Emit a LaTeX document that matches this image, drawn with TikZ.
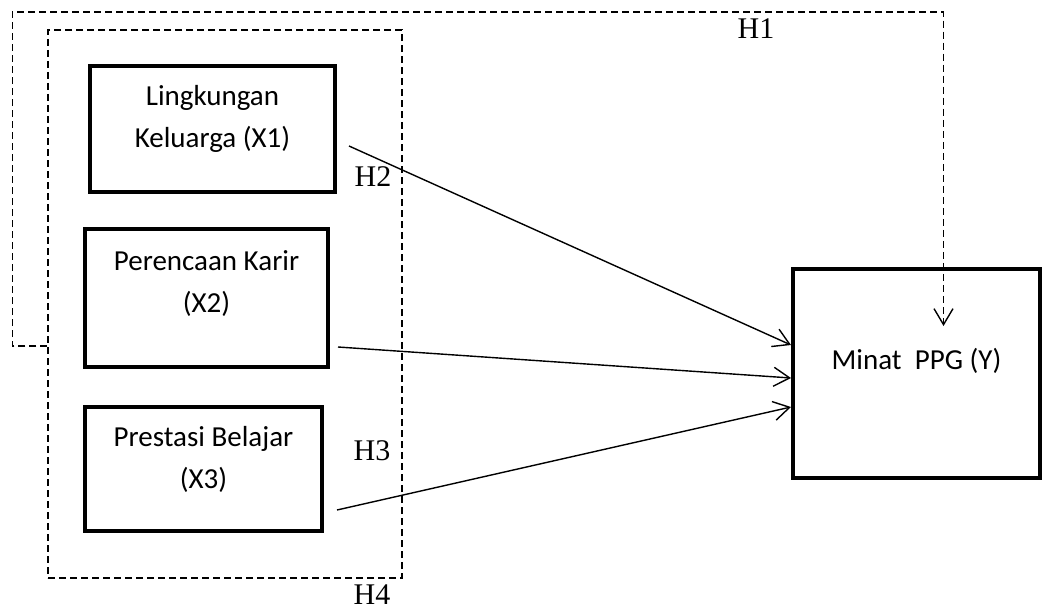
\documentclass[tikz,border=0pt]{standalone}
\usepackage{fontspec}
\setmainfont{Carlito}
\newfontfamily\hserif{Liberation Serif}
\usetikzlibrary{arrows.meta}
\begin{document}
\begin{tikzpicture}[x=1pt,y=-1pt,
  box/.style={draw,line width=4pt,inner sep=0pt},
  boxtext/.style={align=center,inner sep=0pt,font=\fontsize{29}{42}\selectfont},
  dashline/.style={line width=1.5pt,dash pattern=on 7pt off 4pt},
  vtip/.style={-{Straight Barb[length=16pt,width=19pt,line width=1.4pt]}},
  conn/.style={line width=1.4pt,vtip},
  hlab/.style={inner sep=0pt,font=\hserif\fontsize{30}{30}\selectfont}]
\useasboundingbox (0,0) rectangle (1046,610);

% grouping box (H4)
\node[draw,dashline,minimum width=354pt,minimum height=548pt] (grp) at (225,304) {};

% variable boxes
\node[box,minimum width=245pt,minimum height=126pt,
  label={[boxtext,yshift=10pt]center:{Lingkungan\\Keluarga (X1)}}] (x1) at (212.5,129) {};
\node[box,minimum width=243pt,minimum height=138pt,
  label={[boxtext,yshift=14pt]center:{Perencaan Karir\\(X2)}}] (x2) at (206.5,298) {};
\node[box,minimum width=237pt,minimum height=124pt,
  label={[boxtext,yshift=10pt]center:{Prestasi Belajar\\(X3)}}] (x3) at (203.5,469) {};
\node[box,minimum width=247pt,minimum height=209pt,
  label={[boxtext,yshift=13pt]center:{Minat\ \ PPG (Y)}}] (y) at (916.5,373.5) {};

% connectors
\draw[conn] ([shift={(12,17)}]x1.east) -- ([shift={(0,-28.5)}]y.west);
\draw[conn] ([shift={(8,49)}]x2.east) -- ([shift={(0,4.5)}]y.west);
\draw[conn] ([shift={(13,41)}]x3.east) -- ([shift={(0,33.5)}]y.west);

% H1 path
\coordinate (h1end) at (943.5,326);
\draw[dashline,vtip] ([yshift=-42pt]grp.west) -- ++(-35,0) |- (943.5,12) -- (h1end);

% labels
\node[hlab] (h1) at (756,29) {H1};
\node[hlab] (h2) at (373,177) {H2};
\node[hlab] (h3) at (372,451) {H3};
\node[hlab] (h4) at (372,595) {H4};
\end{tikzpicture}
\end{document}
